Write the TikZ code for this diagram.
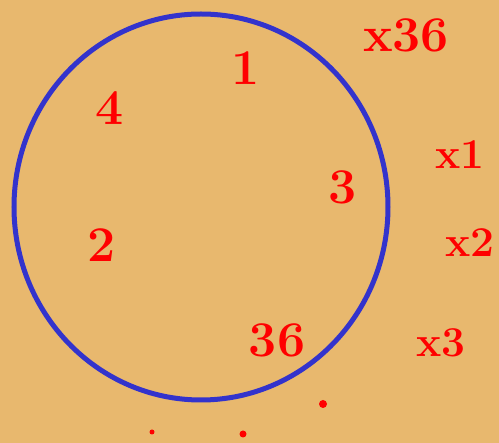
\documentclass[tikz,border=0pt]{standalone}
\usepackage{tikz}
\usetikzlibrary{positioning,calc}
\definecolor{paper}{RGB}{232,184,110}
\definecolor{pen}{RGB}{51,51,204}
\definecolor{ink}{RGB}{255,0,0}

\begin{document}
\begin{tikzpicture}[x=1pt, y=-1pt,
  num/.style={text=ink, font=\fontsize{50}{50}\selectfont\bfseries, inner sep=0pt},
  tag/.style={text=ink, font=\fontsize{50}{50}\selectfont\bfseries, inner sep=0pt},
  speck/.style={fill=ink, draw=none}
]

\fill[paper] (0,0) rectangle (499,443);
\useasboundingbox (0,0) rectangle (499,443);

\draw[pen, line width=5pt] (201,207) ellipse [x radius=187, y radius=193];

% numbers on the circle
\node[num] (one) at (246,68) {1};
\node[num] (four) at (110,108) {4};
\node[num] (three) at (343,187) {3};
\node[num] (two) at (102,245) {2};
\node[num] (last) at (277,340) {36};

% labels outside
\node[tag] (x36) at (406,35) {x36};
\node[tag, scale=0.85] (x1) at (460,155) {x1};
\node[tag, scale=0.85] (x2) at (470,243) {x2};
\node[tag, scale=0.85] (x3) at (441,343) {x3};

% dots
\fill[speck] (152,432) circle [radius=2.5];
\fill[speck] (243,434) circle [radius=3.5];
\fill[speck] (323,404) circle [radius=4];

\end{tikzpicture}
\end{document}
